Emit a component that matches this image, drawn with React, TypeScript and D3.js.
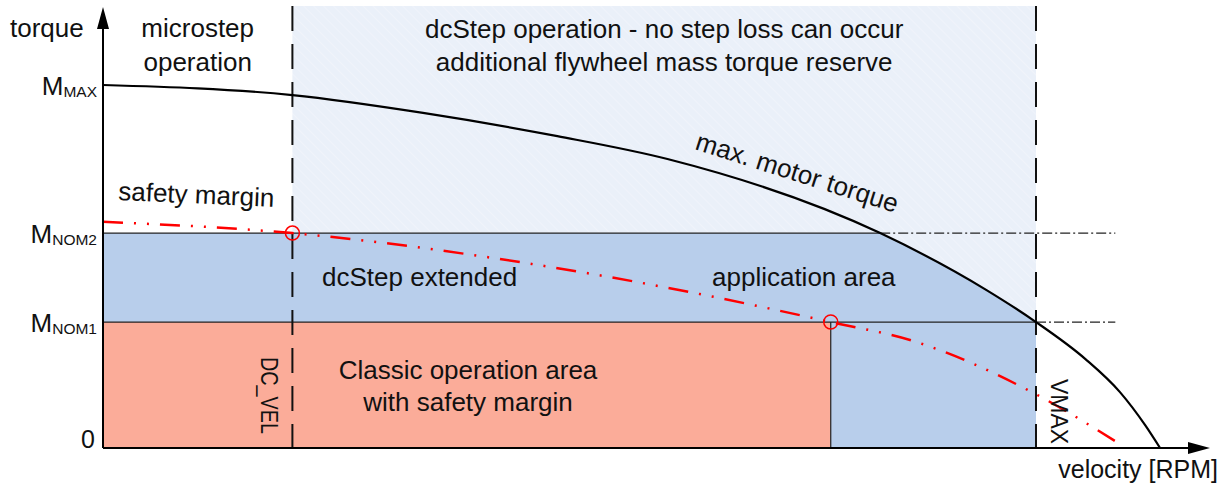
import React from "react";
import * as d3 from "d3";

const width = 1227;
const height = 486;

// velocity in % of VMAX, torque in % of MMAX
const motorVelocity = [0, 20.3, 34.3, 48.7, 60.5, 83.3, 94.7, 100, 105.3, 109.0, 111.7, 113.3];
const motorTorque = [100, 97.2, 92.3, 85.9, 79.6, 59.2, 43.5, 34.7, 24.5, 15.4, 6.3, 0];

const marginVelocity = [0, 20.3, 45.2, 62.8, 78, 86.8, 99.7, 109.3];
const marginTorque = [62.3, 59.2, 51.0, 43.0, 34.7, 29.5, 15.2, 0.6];

const levelNames = ["MAX", "NOM2", "NOM1"];
const levelValues = [100, 59.2, 34.7];

const dcVel = 20.3;
const classicEnd = 78;
const vMax = 100;
const dashDotEnd = 108.5;

const x = d3.scaleLinear().domain([0, 100]).range([103, 1036]);
const y = d3.scaleLinear().domain([0, 100]).range([448, 85]);

const font = "'Liberation Sans', Arial, sans-serif";

const App = () => {
  const [, mNom2, mNom1] = levelValues;
  const motorPts = motorVelocity.map((v, i) => [v, motorTorque[i]] as [number, number]);
  const marginPts = marginVelocity.map((v, i) => [v, marginTorque[i]] as [number, number]);

  const line = d3
    .line<[number, number]>()
    .x((d) => x(d[0]))
    .y((d) => y(d[1]))
    .curve(d3.curveMonotoneX);

  // area under the motor curve, used to cut the extended region
  const underCurve = d3
    .area<[number, number]>()
    .x((d) => x(d[0]))
    .y0(y(0))
    .y1((d) => y(d[1]))
    .curve(d3.curveMonotoneX);

  const nom2Cross = motorVelocity[motorTorque.indexOf(mNom2)];
  const axisTop = y.invert(7);
  const axisRight = x.invert(1210);
  const zoneTop = y.invert(6);

  return (
    <svg width={width} height={height} style={{ position: "absolute", left: 0, top: 0 }} fontFamily={font}>
      <defs>
        <pattern id="hatch" width="7" height="7" patternUnits="userSpaceOnUse" patternTransform="rotate(-45)">
          <rect width="7" height="7" fill="#eaf0f9" />
          <line x1="0" y1="0" x2="0" y2="7" stroke="#f2f5fb" strokeWidth="1.5" />
        </pattern>
        <clipPath id="under">
          <path d={underCurve(motorPts) || ""} />
        </clipPath>
      </defs>
      <rect width={width} height={height} fill="#fff" />

      {/* dcStep zone */}
      <rect x={x(dcVel)} y={y(zoneTop)} width={x(vMax) - x(dcVel)} height={y(0) - y(zoneTop)} fill="url(#hatch)" />

      {/* dcStep extended application area */}
      <rect
        x={x(0)}
        y={y(mNom2)}
        width={x(vMax) - x(0)}
        height={y(0) - y(mNom2)}
        fill="#b8ceeb"
        clipPath="url(#under)"
      />

      {/* classic operation area */}
      <rect x={x(0)} y={y(mNom1)} width={x(classicEnd) - x(0)} height={y(0) - y(mNom1)} fill="#fbac99" />

      {/* level lines */}
      <line x1={x(0)} x2={x(nom2Cross)} y1={y(mNom2)} y2={y(mNom2)} stroke="#222" strokeWidth={1.2} />
      <line x1={x(0)} x2={x(vMax)} y1={y(mNom1)} y2={y(mNom1)} stroke="#222" strokeWidth={1.2} />
      <line x1={x(nom2Cross)} x2={x(dashDotEnd)} y1={y(mNom2)} y2={y(mNom2)} stroke="#222" strokeWidth={1.2} strokeDasharray="10 3 2 3" />
      <line x1={x(vMax)} x2={x(dashDotEnd)} y1={y(mNom1)} y2={y(mNom1)} stroke="#222" strokeWidth={1.2} strokeDasharray="10 3 2 3" />
      <line x1={x(classicEnd)} x2={x(classicEnd)} y1={y(mNom1)} y2={y(0)} stroke="#222" strokeWidth={1.2} />

      {/* zone boundaries */}
      {[dcVel, vMax].map((v) => (
        <line key={v} x1={x(v)} x2={x(v)} y1={y(zoneTop)} y2={y(0)} stroke="#111" strokeWidth={2} strokeDasharray="25 13" />
      ))}

      {/* max motor torque */}
      <path d={line(motorPts) || ""} fill="none" stroke="#000" strokeWidth={2.2} />

      {/* safety margin */}
      <path d={line(marginPts) || ""} fill="none" stroke="#f00" strokeWidth={2.5} strokeDasharray="20 11 2 11 2 11" />
      {[
        [dcVel, mNom2],
        [classicEnd, mNom1],
      ].map(([v, t]) => (
        <circle key={v} cx={x(v)} cy={y(t)} r={7} fill="none" stroke="#f00" strokeWidth={1.5} />
      ))}

      {/* axes */}
      <line x1={x(0)} x2={x(axisRight) - 20} y1={y(0)} y2={y(0)} stroke="#000" strokeWidth={2} />
      <line x1={x(0)} x2={x(0)} y1={y(0)} y2={y(axisTop) + 20} stroke="#000" strokeWidth={2} />
      <path d={`M${x(axisRight)},${y(0)} l-22,-6 v12 z`} fill="#000" />
      <path d={`M${x(0)},${y(axisTop)} l-6,22 h12 z`} fill="#000" />

      {/* y labels */}
      <g fontSize={26} fill="#111" textAnchor="end">
        {levelNames.map((n, i) => (
          <text key={n} x={x(0) - 6} y={y(levelValues[i]) + 10}>
            M
            <tspan fontSize={15.5} dy={2}>
              {n}
            </tspan>
          </text>
        ))}
        <text x={x(0) - 8} y={y(0)} fontSize={25}>
          0
        </text>
      </g>

      <g fontSize={26} fill="#111">
        <text x={10} y={37}>torque</text>
        <text x={(x(0) + x(dcVel)) / 2} y={37} textAnchor="middle">microstep</text>
        <text x={(x(0) + x(dcVel)) / 2} y={71} textAnchor="middle">operation</text>
        <text x={(x(dcVel) + x(vMax)) / 2} y={38} textAnchor="middle">dcStep operation - no step loss can occur</text>
        <text x={(x(dcVel) + x(vMax)) / 2} y={71} textAnchor="middle">additional flywheel mass torque reserve</text>
        <text x={118} y={200} transform="rotate(2.5 118 200)">safety margin</text>
        <text x={694} y={149} transform="rotate(17.6 694 149)">max. motor torque</text>
        <text x={322} y={286}>dcStep extended</text>
        <text x={712} y={286}>application area</text>
        <text x={468} y={379} textAnchor="middle">Classic operation area</text>
        <text x={468} y={411} textAnchor="middle">with safety margin</text>
        <text x={1218} y={478} textAnchor="end" fontSize={25}>velocity [RPM]</text>
      </g>
      <g fontSize={23} fill="#111">
        <text x={261} y={357} transform="rotate(90 261 357)" textLength={77} lengthAdjust="spacingAndGlyphs">DC_VEL</text>
        <text x={1051} y={379} transform="rotate(90 1051 379)">VMAX</text>
      </g>
    </svg>
  );
};

export default App;
